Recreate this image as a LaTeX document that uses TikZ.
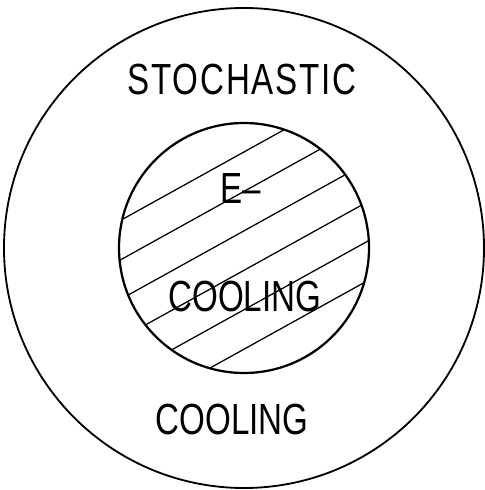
\documentclass[tikz,border=0pt]{standalone}
\usepackage{fontspec}
\newfontfamily\stencilfont[FakeStretch=0.76]{Liberation Sans}
\usetikzlibrary{positioning}
\tikzset{
  ring/.style={draw=black, line width=1.3pt},
  hatch/.style={draw=black, line width=0.9pt},
  label/.style={font=\stencilfont\fontsize{31}{31}\selectfont, inner sep=0pt, text=black},
}

\begin{document}
\begin{tikzpicture}
    \useasboundingbox (-6.1,-6.05) rectangle (6.0,6.2);
    % outer region: stochastic cooling
    \draw[ring] (0,0) circle (6.0);
    % inner region: electron cooling, hatched
    \begin{scope}
      \clip (0,0) circle (3.125);
      \foreach \d in {2.1,1.2375,0.375,-0.4875,-1.35,-2.2125}
        \draw[hatch,rotate=29] (-4,\d) -- (4,\d);
    \end{scope}
    \draw[ring,line width=1.6pt] (0,0) circle (3.125);
    \node[label] (stoch) at (-0.05,4.2) {\addfontfeature{LetterSpace=4}STOCHASTIC};
    \node[label] (ecool) at (-0.08,1.48) {E–};
    \node[label] (inner) at (0.02,-1.2) {COOLING};
    \node[label] (outer) at (-0.3,-4.28) {COOLING};
\end{tikzpicture}
\end{document}
